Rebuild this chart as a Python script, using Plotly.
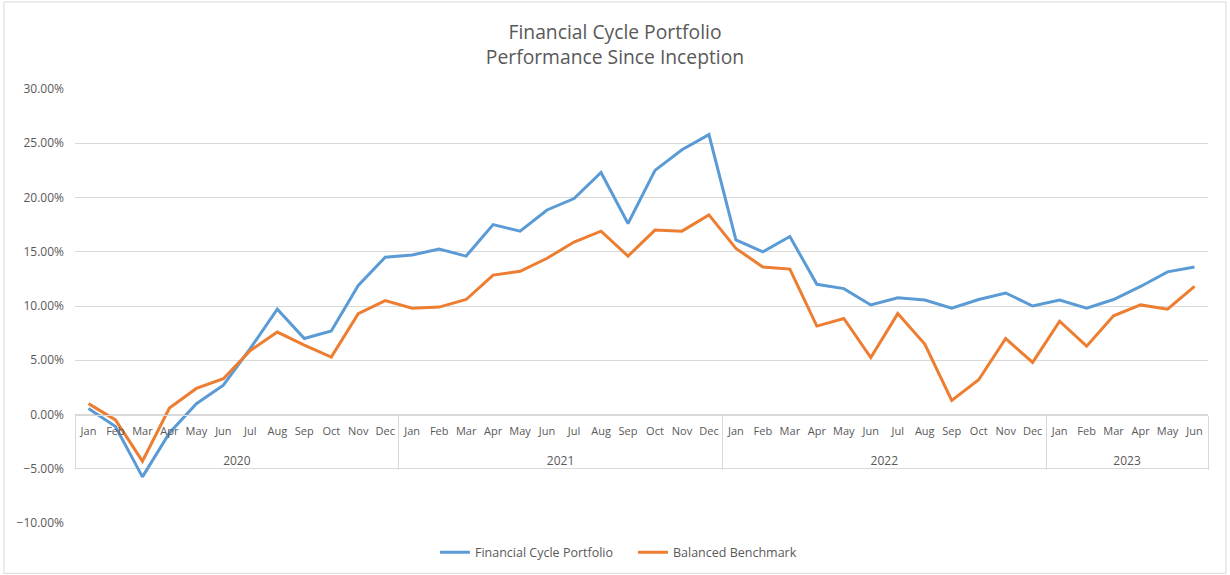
import plotly.graph_objects as go

month_names = ["Jan", "Feb", "Mar", "Apr", "May", "Jun", "Jul", "Aug", "Sep", "Oct", "Nov", "Dec"]
year_labels = ["2020", "2021", "2022", "2023"]
months_per_year = [12, 12, 12, 6]

portfolio = [0.55, -1.1, -5.75, -1.7, 1.0, 2.7, 6.1, 9.7, 7.0, 7.7, 11.9, 14.5,
             14.7, 15.25, 14.6, 17.5, 16.9, 18.85, 19.9, 22.3, 17.6, 22.5, 24.4, 25.8,
             16.1, 15.0, 16.4, 12.0, 11.6, 10.1, 10.75, 10.55, 9.8, 10.6, 11.2, 10.0,
             10.55, 9.8, 10.6, 11.8, 13.15, 13.6]
benchmark = [1.0, -0.5, -4.3, 0.6, 2.4, 3.3, 5.9, 7.6, 6.4, 5.3, 9.3, 10.5,
             9.8, 9.9, 10.6, 12.85, 13.2, 14.4, 15.9, 16.9, 14.6, 17.0, 16.9, 18.4,
             15.3, 13.6, 13.4, 8.15, 8.85, 5.25, 9.3, 6.5, 1.3, 3.2, 7.0, 4.8,
             8.6, 6.3, 9.1, 10.1, 9.7, 11.8]

# category index positions, month tick text, year group centres and boundaries
mos = []
year_centres = []
boundaries = [-0.5]
start = 0
for n in months_per_year:
    mos += month_names[:n]
    year_centres.append(start + (n - 1) / 2)
    start += n
    boundaries.append(start - 0.5)
idx = list(range(len(mos)))

GRAY = "#595959"
GRID = "#d9d9d9"
FONT = "Open Sans"
AXPOS = 0.25  # paper position of y = 0 on a -10..30 range

fig = go.Figure()
fig.add_trace(go.Scatter(x=idx, y=portfolio, mode="lines", name="Financial Cycle Portfolio",
                         line=dict(color="#5B9BD5", width=3)))
fig.add_trace(go.Scatter(x=idx, y=benchmark, mode="lines", name="Balanced Benchmark",
                         line=dict(color="#ED7D31", width=3)))
# invisible helper traces so the year-label axis and the divider axis get drawn
fig.add_trace(go.Scatter(x=year_centres, y=[0] * len(year_centres), xaxis="x2", yaxis="y",
                         mode="lines", line=dict(width=0), opacity=0, showlegend=False,
                         hoverinfo="skip"))
fig.add_trace(go.Scatter(x=boundaries, y=[0] * len(boundaries), xaxis="x3", yaxis="y",
                         mode="lines", line=dict(width=0), opacity=0, showlegend=False,
                         hoverinfo="skip"))

xr = [-0.5, len(mos) - 0.5]
fig.update_layout(
    width=1230, height=575,
    margin=dict(l=75, r=22, t=89, b=52, autoexpand=False),
    paper_bgcolor="white", plot_bgcolor="white",
    font=dict(family=FONT, color=GRAY, size=12),
    title=dict(text="Financial Cycle Portfolio<br>Performance Since Inception",
               x=0.5, xref="container", xanchor="center",
               y=1 - 39 / 575, yref="container", yanchor="top",
               font=dict(family=FONT, size=19.3, color=GRAY)),
    showlegend=True,
    legend=dict(orientation="h", x=0.3177, xanchor="left", y=-0.068, yanchor="middle",
                entrywidth=153, entrywidthmode="pixels",
                font=dict(family=FONT, size=12.5, color=GRAY), bgcolor="rgba(0,0,0,0)"),
    xaxis=dict(range=xr, anchor="free", position=AXPOS, automargin=False,
               tickmode="array", tickvals=idx, ticktext=mos,
               showgrid=False, zeroline=False, showline=True, linecolor=GRID, linewidth=1,
               ticks="", tickangle=0, ticklabelstandoff=6,
               tickfont=dict(family=FONT, size=11, color=GRAY)),
    xaxis2=dict(range=xr, overlaying="x", anchor="free", position=AXPOS, side="bottom",
                automargin=False, tickmode="array", tickvals=year_centres, ticktext=year_labels,
                showgrid=False, zeroline=False, showline=False, ticks="", tickangle=0,
                ticklabelstandoff=37, tickfont=dict(family=FONT, size=12, color=GRAY)),
    xaxis3=dict(range=xr, overlaying="x", anchor="free", position=AXPOS, side="bottom",
                automargin=False, tickmode="array", tickvals=boundaries,
                showticklabels=False, showgrid=False, zeroline=False, showline=False,
                ticks="outside", ticklen=54, tickwidth=1, tickcolor=GRID),
    yaxis=dict(range=[-10, 30], dtick=5, tick0=0, tickformat=".2f", ticksuffix="%",
               automargin=False,
               showgrid=True, gridcolor=GRID, gridwidth=1, zeroline=True, zerolinecolor=GRID,
               zerolinewidth=1, showline=False, ticklabelstandoff=10,
               tickfont=dict(family=FONT, size=12, color=GRAY)),
)

fig.add_shape(type="rect", xref="paper", yref="paper",
              x0=-0.0627, x1=1.0159, y0=-0.116, y1=1.2006,
              line=dict(color=GRID, width=1), layer="below")

fig.write_html("out.html", config={"displayModeBar": False},
               post_script="document.body.style.margin='0';document.body.style.overflow='hidden';")
